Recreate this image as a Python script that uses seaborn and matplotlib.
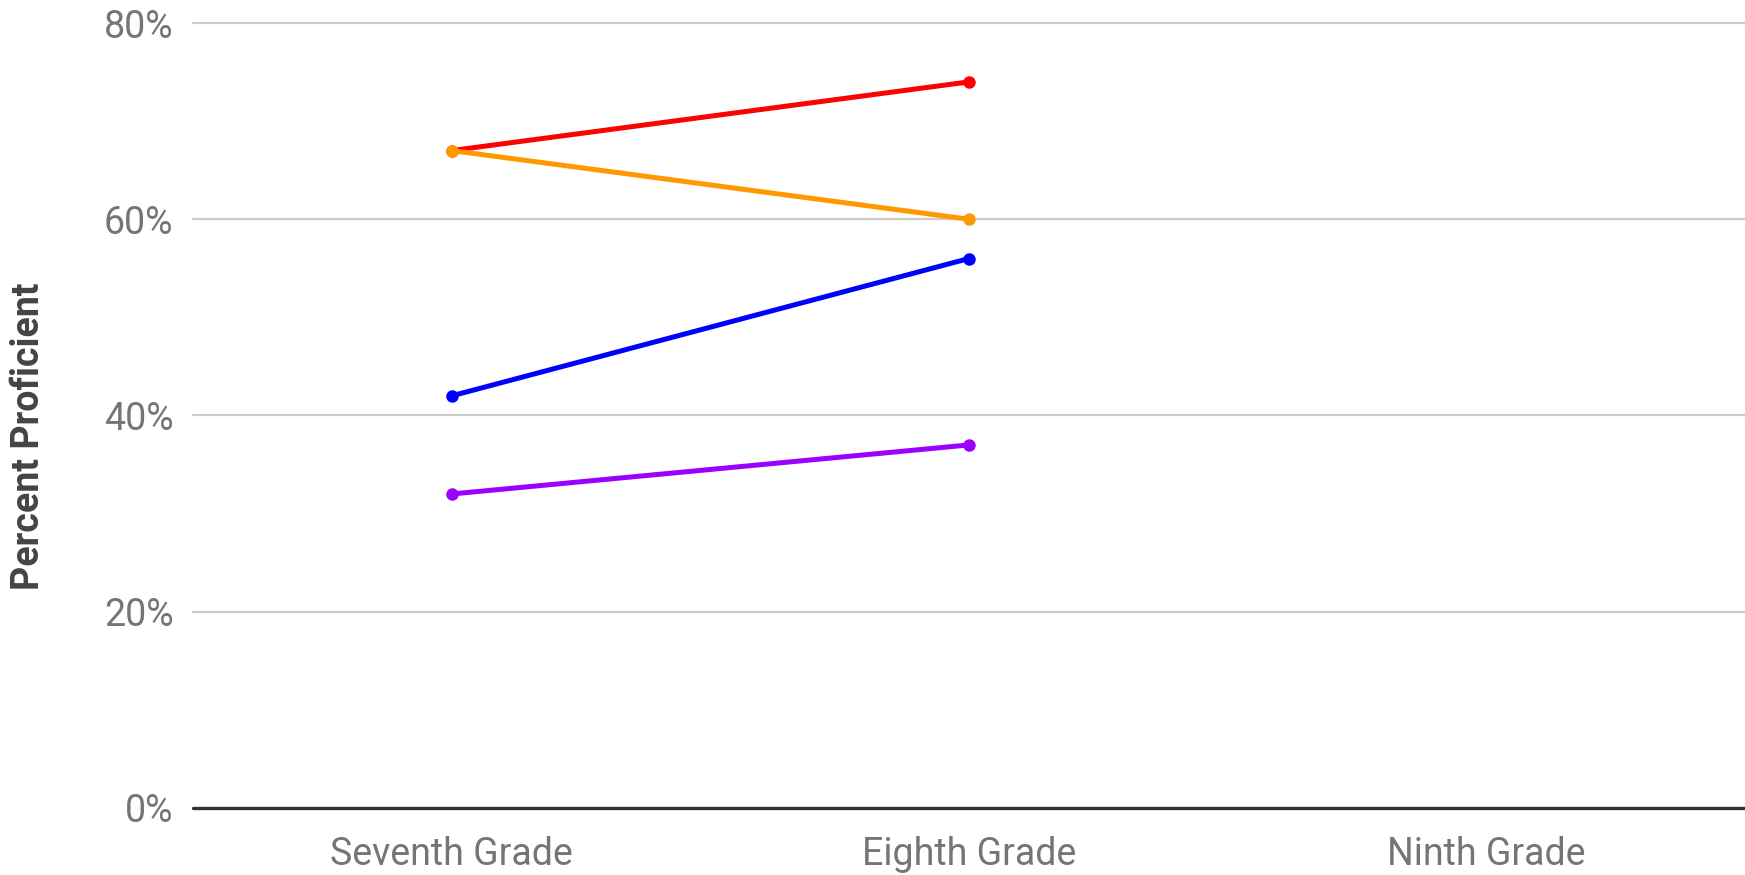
import numpy as np
import pandas as pd
import seaborn as sns
from matplotlib import pyplot as plt
from matplotlib.ticker import PercentFormatter

grades = ["Seventh Grade", "Eighth Grade", "Ninth Grade"]
series_names = ["Group A", "Group B", "Group C", "Group D"]
group_a = [67, 74, np.nan]   # red
group_b = [67, 60, np.nan]   # orange
group_c = [42, 56, np.nan]   # blue
group_d = [32, 37, np.nan]   # purple
colors = ["#ff0000", "#ff9900", "#0000ff", "#9900ff"]

rows = []
for name, vals in zip(series_names, [group_a, group_b, group_c, group_d]):
    for i, v in enumerate(vals):
        rows.append((i, v, name))
df = pd.DataFrame(rows, columns=["pos", "Percent", "Series"])

sns.set_theme(style="white")
plt.rcParams['font.family'] = ['Roboto', 'DejaVu Sans']

fig = plt.figure(figsize=(17.45, 8.75), dpi=100)
ax = fig.add_axes([0.1106, 0.0766, 0.8894, 0.8971])

# grid lines behind the data
for y in [20, 40, 60, 80]:
    ax.axhline(y, color="#cccccc", lw=1.6, zorder=0, clip_on=False)
ax.axhline(0, color="#333333", lw=2.4, zorder=1, clip_on=False)

sns.lineplot(data=df, x="pos", y="Percent", hue="Series", hue_order=series_names,
             palette=colors, marker="o", markersize=9, markeredgewidth=0,
             linewidth=3.6, legend=False, ax=ax, zorder=3)
# orange drawn over red at the shared start point
ax.lines[-3].set_zorder(4)

ax.set_xlim(-0.5, 2.5)
ax.set_ylim(0, 80)
ax.set_xticks(range(len(grades)))
ax.set_xticklabels(grades)
ax.set_yticks([0, 20, 40, 60, 80])
ax.yaxis.set_major_formatter(PercentFormatter(decimals=0))
ax.tick_params(axis="both", length=0, labelsize=27, labelcolor="#757575")
ax.tick_params(axis="y", pad=14)
ax.tick_params(axis="x", pad=20)
ax.set_xlabel("")
ax.set_ylabel("Percent Proficient", fontsize=27, fontweight="bold", color="#444444", va="center")
ax.yaxis.set_label_coords(-0.106, 0.474)
for s in ax.spines.values():
    s.set_visible(False)

plt.savefig("out.png", dpi=100)
